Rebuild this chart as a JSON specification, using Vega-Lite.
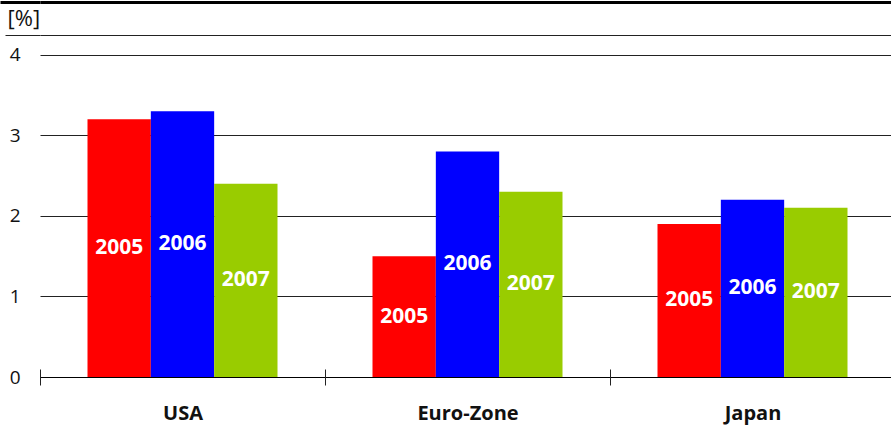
{
  "$schema": "https://vega.github.io/schema/vega-lite/v6.json",
  "width": 851,
  "height": 377,
  "autosize": {"type": "none"},
  "padding": {"left": 40, "top": 0, "right": 0, "bottom": 52},
  "background": "white",
  "config": {
    "view": {"stroke": null},
    "font": "Open Sans"
  },
  "data": {
    "values": [
      {"region": "USA", "year": "2005", "value": 3.2},
      {"region": "USA", "year": "2006", "value": 3.3},
      {"region": "USA", "year": "2007", "value": 2.4},
      {"region": "Euro-Zone", "year": "2005", "value": 1.5},
      {"region": "Euro-Zone", "year": "2006", "value": 2.8},
      {"region": "Euro-Zone", "year": "2007", "value": 2.3},
      {"region": "Japan", "year": "2005", "value": 1.9},
      {"region": "Japan", "year": "2006", "value": 2.2},
      {"region": "Japan", "year": "2007", "value": 2.1}
    ]
  },
  "encoding": {
    "x": {
      "field": "region",
      "type": "nominal",
      "sort": ["USA", "Euro-Zone", "Japan"],
      "scale": {"paddingInner": 0, "paddingOuter": 0, "range": [0, 855]},
      "axis": {
        "title": null,
        "domain": false,
        "tickBand": "extent",
        "offset": -8,
        "tickSize": 16,
        "tickColor": "#222222",
        "tickWidth": 1,
        "labelAngle": 0,
        "labelFont": "Open Sans",
        "labelFontSize": 20,
        "labelFontWeight": "bold",
        "labelColor": "#111111",
        "labelPadding": 18
      }
    },
    "xOffset": {
      "field": "year",
      "type": "nominal",
      "scale": {"paddingInner": 0, "paddingOuter": 0.75}
    }
  },
  "layer": [
    {
      "mark": {"type": "bar"},
      "encoding": {
        "y": {
          "field": "value",
          "type": "quantitative",
          "scale": {"domain": [0, 4.68], "nice": false, "zero": true},
          "axis": {
            "orient": "left",
            "values": [0, 1, 2, 3, 4],
            "format": "d",
            "domain": false,
            "grid": true,
            "gridColor": {"condition": {"test": "datum.value == 0", "value": "#000000"}, "value": "#222222"},
            "gridWidth": 1,
            "gridOpacity": 1,
            "ticks": false,
            "labelAlign": "right",
            "labelBaseline": "middle",
            "labelPadding": 20,
            "labelFont": "Open Sans",
            "labelFontSize": 19,
            "labelColor": "#111111",
            "title": "[%]",
            "titleAngle": 0,
            "titleAlign": "left",
            "titleBaseline": "middle",
            "titleX": -33,
            "titleY": 18,
            "titleFont": "Open Sans",
            "titleFontSize": 22,
            "titleFontWeight": "normal",
            "titleColor": "#111111"
          }
        },
        "color": {
          "field": "year",
          "type": "nominal",
          "scale": {"domain": ["2005", "2006", "2007"], "range": ["#ff0000", "#0000ff", "#99cc00"]},
          "legend": null
        }
      }
    },
    {
      "mark": {
        "type": "text",
        "color": "white",
        "font": "Open Sans",
        "fontSize": 21,
        "fontWeight": "bold",
        "letterSpacing": 1.5,
        "align": "center",
        "baseline": "middle"
      },
      "encoding": {
        "y": {
          "field": "value",
          "type": "quantitative",
          "scale": {"domain": [0, 9.36], "nice": false, "zero": true},
          "axis": {
            "orient": "left",
            "values": [8.5, 9.32],
            "labels": false,
            "domain": false,
            "title": null,
            "grid": true,
            "gridColor": {"condition": {"test": "datum.value > 9", "value": "#000000"}, "value": "#222222"},
            "gridWidth": {"condition": {"test": "datum.value > 9", "value": 3}, "value": 1},
            "gridOpacity": 1,
            "tickSize": {"condition": {"test": "datum.value > 9", "value": 40}, "value": 35},
            "tickColor": {"condition": {"test": "datum.value > 9", "value": "#000000"}, "value": "#222222"},
            "tickWidth": {"condition": {"test": "datum.value > 9", "value": 3}, "value": 1}
          }
        },
        "text": {"field": "year", "type": "nominal"}
      }
    }
  ],
  "resolve": {"scale": {"y": "independent"}}
}
